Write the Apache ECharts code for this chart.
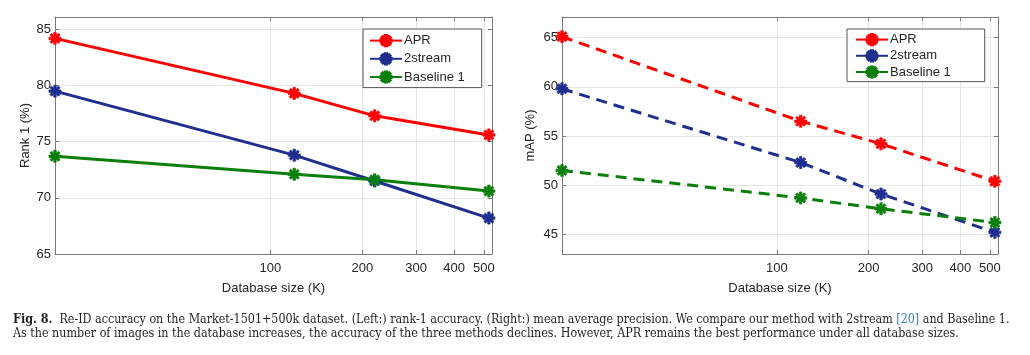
<!DOCTYPE html>
<html>
<head>
<meta charset="utf-8">
<script src="https://cdn.jsdelivr.net/npm/echarts@6/dist/echarts.min.js"></script>
<style>html,body{margin:0;padding:0;background:#fff}#c{width:1030px;height:355px}</style>
</head>
<body>
<div id="c"></div>
<script>
// ---- data ----
const dbSizes = [19.7, 119.7, 219.7, 519.7];          // database size (K)
const xTicks = [100, 200, 300, 400, 500];
const rankTicks = [65, 70, 75, 80, 85];
const mapTicks = [45, 50, 55, 60, 65];
const methods = ['APR', '2stream', 'Baseline 1'];
const rank1APR = [84.2, 79.3, 77.3, 75.6];
const rank1TwoStream = [79.5, 73.8, 71.5, 68.2];
const rank1Baseline = [73.7, 72.1, 71.6, 70.6];
const mapAPR = [65.1, 56.5, 54.2, 50.4];
const mapTwoStream = [59.8, 52.3, 49.1, 45.2];
const mapBaseline = [51.5, 48.7, 47.6, 46.2];
const captionLine1 = ['Fig. 8.', '  Re-ID accuracy on the Market-1501+500k dataset. (Left:) rank-1 accuracy. (Right:) mean average precision. We compare our method with 2stream ', '[20]', ' and Baseline 1.'];
const captionLine2 = 'As the number of images in the database increases, the accuracy of the three methods declines. However, APR remains the best performance under all database sizes.';

const colors = ['#ff0000', '#1f2f8f', '#0a800a'];
const star = 'path://M0,40L100,40L100,60L0,60ZM60,0L60,100L40,100L40,0ZM21.7,7.6L92.4,78.3L78.3,92.4L7.6,21.7ZM92.4,21.7L21.7,92.4L7.6,78.3L78.3,7.6Z';
const FONT = 'Liberation Sans';
const CAPFONT = 'DejaVu Serif Condensed';
const CAPSIZE = 12.4;
const axisCol = '#7a7a7a';
const gridCol = '#e6e6e6';

function xAxes(gi) {
  const base = {
    type: 'log', logBase: 10, min: 19.7, max: 532, gridIndex: gi,
    axisLine: { show: true, lineStyle: { color: axisCol, width: 1 } },
    axisTick: { show: true, inside: true, length: 4, customValues: xTicks, lineStyle: { color: axisCol } },
    minorTick: { show: false }, minorSplitLine: { show: false }
  };
  return [
    Object.assign({}, base, {
      position: 'bottom',
      axisLabel: { show: true, customValues: xTicks, color: '#262626', fontFamily: FONT, fontSize: 13, margin: 8 },
      splitLine: { show: true, lineStyle: { color: gridCol, width: 1 } },
      name: 'Database size (K)', nameLocation: 'middle', nameGap: 28,
      nameTextStyle: { color: '#262626', fontFamily: FONT, fontSize: 13 }
    }),
    Object.assign({}, base, {
      position: 'top', axisLabel: { show: false }, splitLine: { show: false }
    })
  ];
}
function yAxes(gi, min, max, ticks, name, gap) {
  const base = {
    type: 'value', min: min, max: max, gridIndex: gi,
    axisLine: { show: true, lineStyle: { color: axisCol, width: 1 } },
    axisTick: { show: true, inside: true, length: 4, customValues: ticks, lineStyle: { color: axisCol } }
  };
  return [
    Object.assign({}, base, {
      position: 'left',
      axisLabel: { show: true, customValues: ticks, color: '#262626', fontFamily: FONT, fontSize: 13, margin: 4 },
      splitLine: { show: true, lineStyle: { color: gridCol, width: 1 } },
      name: name, nameLocation: 'middle', nameGap: gap,
      nameTextStyle: { color: '#262626', fontFamily: FONT, fontSize: 13 }
    }),
    Object.assign({}, base, {
      position: 'right', axisLabel: { show: false }, splitLine: { show: false }
    })
  ];
}
function mk(name, vals, ci, xi, yi, dashed) {
  return {
    type: 'line', name: name, xAxisIndex: xi, yAxisIndex: yi,
    data: dbSizes.map((x, i) => [x, vals[i]]),
    symbol: star, symbolSize: 12, showSymbol: true,
    lineStyle: { color: colors[ci], width: 3, type: dashed ? [11, 7] : 'solid' },
    itemStyle: { color: colors[ci], borderColor: colors[ci], borderWidth: 0.8 },
    emphasis: { disabled: true }, animation: false
  };
}
function legend(left, top, gap, pad) {
  return {
    orient: 'vertical', left: left, top: top, data: methods,
    itemWidth: 32, itemHeight: 14, itemGap: gap, padding: pad,
    borderColor: '#555', borderWidth: 1, backgroundColor: '#fff',
    textStyle: { color: '#262626', fontFamily: FONT, fontSize: 13, padding: [0, 0, 0, -3] },
    selectedMode: false
  };
}

const chart = echarts.init(document.getElementById('c'), null, { renderer: 'canvas' });
chart.setOption({
  animation: false,
  backgroundColor: '#fff',
  grid: [
    { left: 55, top: 17, width: 437, height: 237 },
    { left: 562, top: 17, width: 436, height: 237 }
  ],
  xAxis: [].concat(xAxes(0), xAxes(1)),
  yAxis: [].concat(yAxes(0, 65, 86.1, rankTicks, 'Rank 1 (%)', 23), yAxes(1, 43, 67.1, mapTicks, 'mAP (%)', 25)),
  legend: [legend(363, 29, 5, [5, 17, 4, 6]), legend(847, 29, 3, [4, 34, 3, 8])],
  series: [
    mk('APR', rank1APR, 0, 0, 0, false),
    mk('2stream', rank1TwoStream, 1, 0, 0, false),
    mk('Baseline 1', rank1Baseline, 2, 0, 0, false),
    mk('APR', mapAPR, 0, 2, 2, true),
    mk('2stream', mapTwoStream, 1, 2, 2, true),
    mk('Baseline 1', mapBaseline, 2, 2, 2, true)
  ],
  graphic: [
    {
      type: 'text', left: 13, top: 314,
      style: {
        text: '{b|' + captionLine1[0] + '}' + captionLine1[1] + '{l|' + captionLine1[2] + '}' + captionLine1[3],
        font: CAPSIZE + 'px "' + CAPFONT + '"', fill: '#231f20',
        rich: {
          b: { fontWeight: 'bold', fontFamily: CAPFONT, fontSize: CAPSIZE, fill: '#231f20' },
          l: { fontFamily: CAPFONT, fontSize: CAPSIZE, fill: '#3a7fc1' }
        }
      }
    },
    {
      type: 'text', left: 13, top: 328,
      style: { text: captionLine2, font: CAPSIZE + 'px "' + CAPFONT + '"', fill: '#231f20' }
    }
  ]
});
</script>
</body>
</html>
